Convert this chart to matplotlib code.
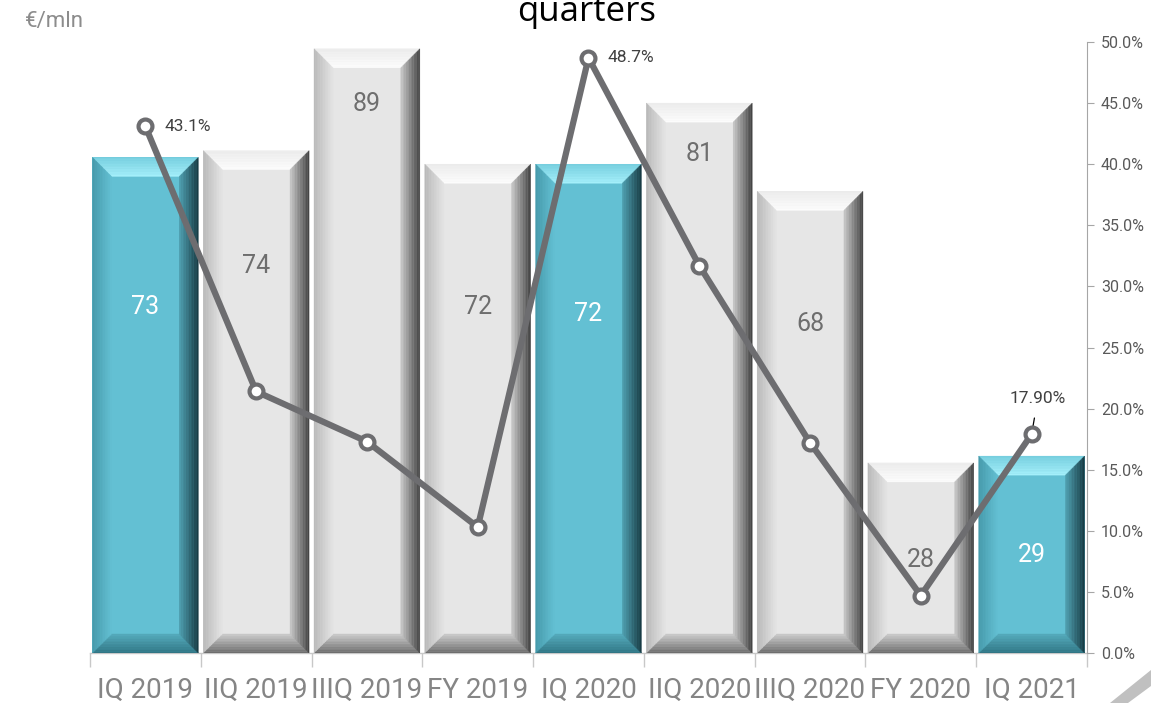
import matplotlib
matplotlib.use("Agg")
import matplotlib.pyplot as plt
import numpy as np
from matplotlib.patches import Polygon
from matplotlib.transforms import IdentityTransform
from matplotlib.ticker import FixedLocator, PercentFormatter
from matplotlib.colors import to_rgb

# ---------------- data ----------------
categories = ["IQ 2019", "IIQ 2019", "IIIQ 2019", "FY 2019", "IQ 2020",
              "IIQ 2020", "IIIQ 2020", "FY 2020", "IQ 2021"]
bar_values = [73, 74, 89, 72, 72, 81, 68, 28, 29]
highlight = [True, False, False, False, True, False, False, False, True]
pct_values = [43.1, 21.4, 17.3, 10.3, 48.7, 31.7, 17.2, 4.7, 17.9]
pct_labels = {0: "43.1%", 4: "48.7%", 8: "17.90%"}
# vertical placement of bar value labels (left-axis units)
bar_label_y = [51, 57, 80.8, 51, 50, 73.5, 48.4, 13.7, 14.5]

plt.rcParams['font.family'] = ['Roboto', 'DejaVu Sans']

W, H = 1151, 703
fig = plt.figure(figsize=(W / 100, H / 100), dpi=100)
ax = fig.add_axes([90 / W, (H - 653) / H, (1087 - 90) / W, (653 - 42) / H])
ax2 = ax.twinx()

x = np.arange(len(categories))
teal = "#63c0d3"
gray = "#e6e6e6"
face = [teal if h else gray for h in highlight]
bars = ax.bar(x, bar_values, width=0.955, color=face, edgecolor="none", zorder=2)

ax.set_xlim(-0.5, len(categories) - 0.5)
ax.set_ylim(0, 90)
ax.set_yticks([])
for s in ["top", "left", "right"]:
    ax.spines[s].set_visible(False)
ax.spines["bottom"].set_color("#c8c8c8")
ax.spines["bottom"].set_linewidth(1.0)
ax.set_xticks(x)
ax.set_xticklabels(categories, fontsize=20, color="#858585")
ax.tick_params(axis="x", which="major", length=0, pad=17)
ax.xaxis.set_minor_locator(FixedLocator(np.arange(-0.5, len(categories), 1.0)))
ax.tick_params(axis="x", which="minor", length=10, color="#c8c8c8", width=1.0)

# right axis
ax2.set_ylim(0, 50)
ax2.set_yticks(np.arange(0, 50.1, 5))
ax2.yaxis.set_major_formatter(PercentFormatter(decimals=1))
ax2.tick_params(axis="y", length=5, color="#a6a6a6", labelsize=11.5,
                labelcolor="#595959", pad=5)
for s in ["top", "left", "bottom"]:
    ax2.spines[s].set_visible(False)
ax2.spines["right"].set_color("#a6a6a6")

# bevel decoration drawn from each bar's own display extent
fig.canvas.draw()
def mix(c1, c2, t):
    a, b = np.array(to_rgb(c1)), np.array(to_rgb(c2))
    return tuple(a + (b - a) * t)

pal_gray = {"top": ("#ececec", "#fdfdfd"), "left": ("#b8b8b8", "#e4e4e4"),
            "right": ("#3f3f3f", "#c8c8c8"), "bottom": ("#6a6a6a", "#cbcbcb")}
pal_teal = {"top": ("#78d0e0", "#a6f0fb"), "left": ("#4699aa", "#63c0d3"),
            "right": ("#163840", "#4f9fb0"), "bottom": ("#2f7483", "#55aabb")}
bw = 19
N = 12
for rect, hl in zip(bars.patches, highlight):
    bb = rect.get_window_extent()
    x0, x1, y0, y1 = bb.x0, bb.x1, bb.y0, bb.y1
    pal = pal_teal if hl else pal_gray
    for k in range(N):
        t0, t1 = k / N * bw, (k + 1) / N * bw
        tc = (k + 0.5) / N
        polys = {
            "top": [(x0 + t0, y1 - t0), (x1 - t0, y1 - t0), (x1 - t1, y1 - t1), (x0 + t1, y1 - t1)],
            "bottom": [(x0 + t0, y0 + t0), (x1 - t0, y0 + t0), (x1 - t1, y0 + t1), (x0 + t1, y0 + t1)],
            "left": [(x0 + t0, y0 + t0), (x0 + t0, y1 - t0), (x0 + t1, y1 - t1), (x0 + t1, y0 + t1)],
            "right": [(x1 - t0, y0 + t0), (x1 - t0, y1 - t0), (x1 - t1, y1 - t1), (x1 - t1, y0 + t1)],
        }
        for side, pts in polys.items():
            c = mix(pal[side][0], pal[side][1], tc)
            p = Polygon(pts, closed=True, facecolor=c, edgecolor=c, linewidth=0.3,
                        transform=IdentityTransform(), zorder=3)
            ax.add_artist(p)

# bar value labels
for xi, v, ly, hl in zip(x, bar_values, bar_label_y, highlight):
    ax.text(xi, ly, f"{v}", ha="center", va="center", fontsize=18,
            color="white" if hl else "#6e6e6e", zorder=5)

# line
ax2.plot(x, pct_values, color="#6d6d70", lw=4.5, zorder=6, solid_capstyle="round",
         marker="o", markersize=10, markerfacecolor="white", markeredgecolor="#6d6d70",
         markeredgewidth=3)
ax2.set_zorder(ax.get_zorder() + 1)
ax2.patch.set_visible(False)

for i, lab in pct_labels.items():
    if i == 8:
        ax2.annotate(lab, xy=(x[i], pct_values[i]), xytext=(4.5, 26),
                     textcoords="offset points", ha="center", va="center",
                     fontsize=12.5, color="#404040",
                     arrowprops=dict(arrowstyle="-", color="black", lw=0.9,
                                     shrinkA=7, shrinkB=4))
    else:
        ax2.annotate(lab, xy=(x[i], pct_values[i]), xytext=(14, 0),
                     textcoords="offset points", ha="left", va="center",
                     fontsize=12.5, color="#404040")

# texts
fig.text(25 / W, 1 - 22 / H, "€/mln", fontsize=16, color="#8c8c8c",
         ha="left", va="center")
fig.text(587 / W, 1 - 21 / H, "quarters", fontsize=25, color="black",
         ha="center", va="baseline", family=["Open Sans", "DejaVu Sans"])

# corner stripe
stripe = Polygon([(1110 / W, 0), (1128 / W, 0), (1.0, 17 / H), (1.0, 33 / H)],
                 closed=True, transform=fig.transFigure, facecolor="#c0c0c0",
                 edgecolor="none")
fig.patches.append(stripe)

fig.savefig("out.png", dpi=100)
